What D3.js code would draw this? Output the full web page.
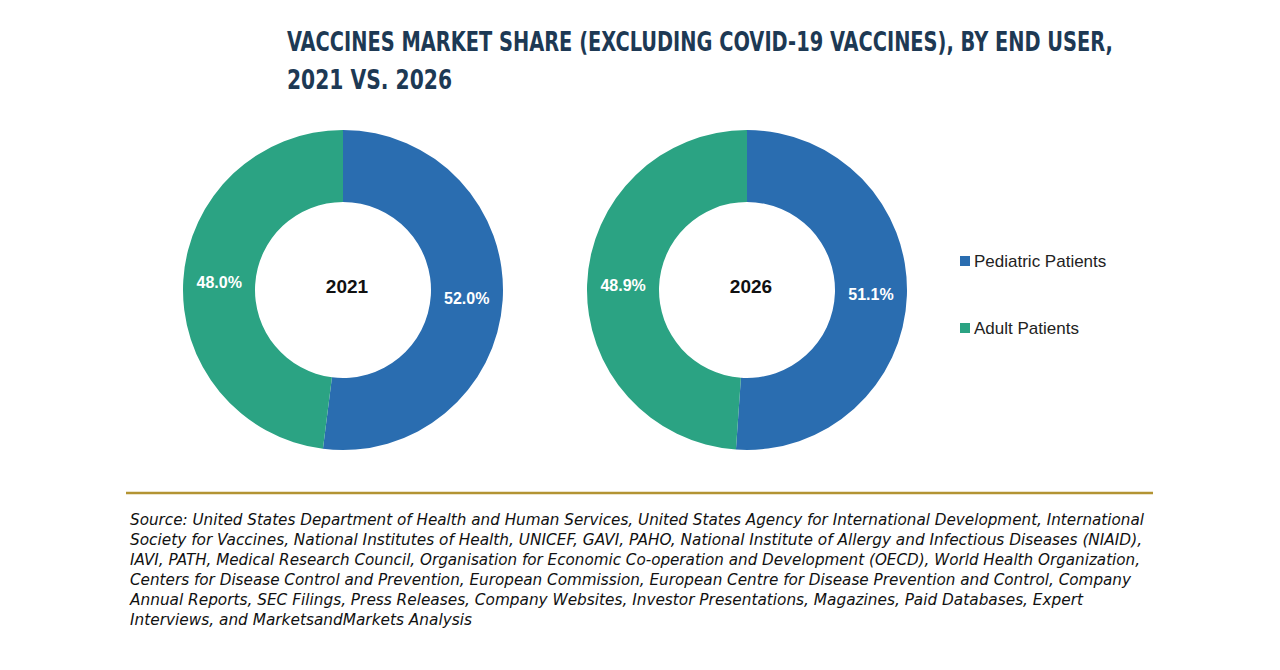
<!DOCTYPE html>
<html>
<head>
<meta charset="utf-8">
<script src="https://cdn.jsdelivr.net/npm/d3@7"></script>
<style>
  body { margin: 0; background: #fff; }
  svg { display: block; }
</style>
</head>
<body>
<div id="chart"></div>
<script>
// Chart data
const years = ["2021", "2026"];
const segments = ["Pediatric Patients", "Adult Patients"];
const pediatricShare = [52.0, 51.1];
const adultShare = [48.0, 48.9];

const titleLines = [
    "VACCINES MARKET SHARE (EXCLUDING COVID-19 VACCINES), BY END USER,",
    "2021 VS. 2026"
];
const sourceLines = [
    "Source: United States Department of Health and Human Services, United States Agency for International Development, International",
    "Society for Vaccines, National Institutes of Health, UNICEF, GAVI, PAHO, National Institute of Allergy and Infectious Diseases (NIAID),",
    "IAVI, PATH, Medical Research Council, Organisation for Economic Co-operation and Development (OECD), World Health Organization,",
    "Centers for Disease Control and Prevention, European Commission, European Centre for Disease Prevention and Control, Company",
    "Annual Reports, SEC Filings, Press Releases, Company Websites, Investor Presentations, Magazines, Paid Databases, Expert",
    "Interviews, and MarketsandMarkets Analysis"
];

// Dimensions
const width = 1280;
const height = 670;
const outerR = 160;
const innerR = 88;

const svg = d3.select("#chart")
    .append("svg")
    .attr("width", width)
    .attr("height", height);

// Colors per segment
const color = d3.scaleOrdinal()
    .domain(segments)
    .range(["#2a6db0", "#2ba383"]);

// Donut positions
const xCenter = d3.scalePoint()
    .domain(years)
    .range([343, 747]);
const yCenter = 290;

// Title (condensed look: smaller font stretched vertically)
svg.append("g")
    .selectAll("g")
    .data(titleLines)
    .enter()
    .append("g")
    .attr("transform", (d, i) => `translate(287, ${51 + i * 38}) scale(1, 1.35)`)
    .append("text")
    .attr("x", 0)
    .attr("y", 0)
    .attr("font-family", "'DejaVu Sans Condensed', sans-serif")
    .attr("font-weight", "bold")
    .attr("font-size", "20px")
    .attr("fill", "#1d3954")
    .attr("textLength", (d, i) => i === 0 ? 826 : 165)
    .attr("lengthAdjust", "spacingAndGlyphs")
    .text(d => d);

const pie = d3.pie()
    .sort(null)
    .value(d => d.value);

const arc = d3.arc()
    .innerRadius(innerR)
    .outerRadius(outerR);

years.forEach((year, i) => {
    const values = [
        { key: segments[0], value: pediatricShare[i] },
        { key: segments[1], value: adultShare[i] }
    ];
    const g = svg.append("g")
        .attr("transform", `translate(${xCenter(year)}, ${yCenter})`);

    const arcs = pie(values);

    g.selectAll("path")
        .data(arcs)
        .enter()
        .append("path")
        .attr("d", arc)
        .attr("fill", d => color(d.data.key));

    // Percentage labels
    g.selectAll(".pct")
        .data(arcs)
        .enter()
        .append("text")
        .attr("class", "pct")
        .attr("transform", d => `translate(${arc.centroid(d)})`)
        .attr("text-anchor", "middle")
        .attr("dy", "0.36em")
        .attr("font-family", "'Liberation Sans', Arial, sans-serif")
        .attr("font-weight", "bold")
        .attr("font-size", "16px")
        .attr("fill", "#ffffff")
        .text(d => d.data.value.toFixed(1) + "%");

    // Year in the middle
    g.append("text")
        .attr("x", 4)
        .attr("y", -4)
        .attr("text-anchor", "middle")
        .attr("dy", "0.36em")
        .attr("font-family", "'Liberation Sans', Arial, sans-serif")
        .attr("font-weight", "bold")
        .attr("font-size", "19px")
        .attr("fill", "#111111")
        .text(year);
});

// Legend
const legend = svg.append("g")
    .attr("transform", "translate(960, 256)");

legend.selectAll("rect")
    .data(segments)
    .enter()
    .append("rect")
    .attr("x", 0)
    .attr("y", (d, i) => i * 67)
    .attr("width", 10)
    .attr("height", 10)
    .attr("fill", d => color(d));

legend.selectAll("text")
    .data(segments)
    .enter()
    .append("text")
    .attr("x", 14)
    .attr("y", (d, i) => i * 67 + 11)
    .attr("font-family", "'Liberation Sans', Arial, sans-serif")
    .attr("font-size", "17px")
    .attr("fill", "#222222")
    .text(d => d);

// Separator line
svg.append("line")
    .attr("x1", 126)
    .attr("x2", 1153)
    .attr("y1", 493)
    .attr("y2", 493)
    .attr("stroke", "#b39433")
    .attr("stroke-width", 2.5);

// Source text
const sourceWidths = [1014, 1012, 1010, 1001, 953, 342];
svg.append("g")
    .selectAll("text")
    .data(sourceLines)
    .enter()
    .append("text")
    .attr("x", 130)
    .attr("y", (d, i) => 525 + i * 20)
    .attr("font-family", "'DejaVu Sans Condensed', sans-serif")
    .attr("font-style", "italic")
    .attr("font-size", "15px")
    .attr("fill", "#111111")
    .attr("textLength", (d, i) => sourceWidths[i])
    .attr("lengthAdjust", "spacingAndGlyphs")
    .text(d => d);
</script>
</body>
</html>
